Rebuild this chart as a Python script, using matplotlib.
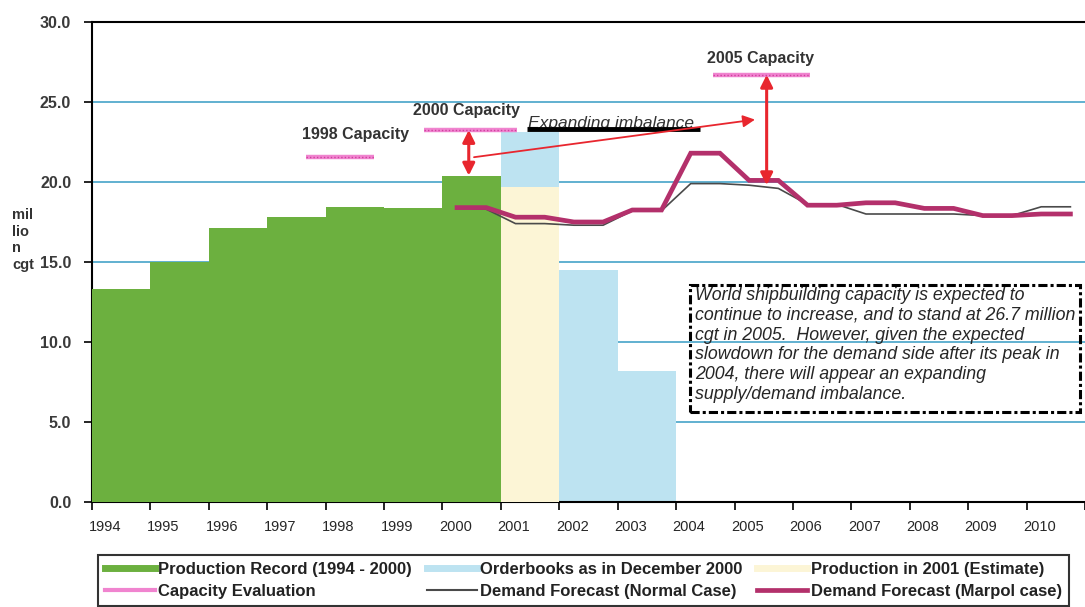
import matplotlib
matplotlib.use('Agg')
import matplotlib.pyplot as plt
from matplotlib.lines import Line2D
from matplotlib.patches import Rectangle

plt.rcParams['font.family'] = ['Liberation Sans', 'DejaVu Sans']

# ---------------- data ----------------
years = ['1994', '1995', '1996', '1997', '1998', '1999', '2000', '2001', '2002',
         '2003', '2004', '2005', '2006', '2007', '2008', '2009', '2010']

prod_years = ['1994', '1995', '1996', '1997', '1998', '1999', '2000']
prod_values = [13.3, 15.0, 17.1, 17.8, 18.45, 18.4, 20.4]

order_years = ['2001', '2002', '2003']
order_values = [23.1, 14.5, 8.2]

est_years = ['2001']
est_values = [19.7]

cap_labels = ['1998 Capacity', '2000 Capacity', '2005 Capacity']
cap_years = ['1998', '2000', '2005']
cap_values = [21.55, 23.25, 26.7]

demand_years = ['2000', '2000', '2001', '2001', '2002', '2002', '2003', '2003',
                '2004', '2004', '2005', '2005', '2006', '2006', '2007', '2007',
                '2008', '2008', '2009', '2009', '2010', '2010']
demand_half = [1, 2, 1, 2, 1, 2, 1, 2, 1, 2, 1, 2, 1, 2, 1, 2, 1, 2, 1, 2, 1, 2]
marpol_values = [18.4, 18.4, 17.8, 17.8, 17.5, 17.5, 18.25, 18.25,
                 21.8, 21.8, 20.1, 20.1, 18.55, 18.55, 18.7, 18.7,
                 18.35, 18.35, 17.9, 17.9, 18.0, 18.0]
normal_values = [18.4, 18.3, 17.4, 17.4, 17.3, 17.3, 18.2, 18.2,
                 19.9, 19.9, 19.8, 19.6, 18.6, 18.6, 18.0, 18.0,
                 18.0, 18.0, 17.9, 17.9, 18.45, 18.45]

yticks = [0, 5, 10, 15, 20, 25, 30]

legend_labels = ['Production Record (1994 - 2000)', 'Capacity Evaluation',
                 'Orderbooks as in December 2000', 'Demand Forecast (Normal Case)',
                 'Production in 2001 (Estimate)', 'Demand Forecast (Marpol case)']

note_text = ("World shipbuilding capacity is expected to\n"
             "continue to increase, and to stand at 26.7 million\n"
             "cgt in 2005.  However, given the expected\n"
             "slowdown for the demand side after its peak in\n"
             "2004, there will appear an expanding\n"
             "supply/demand imbalance.")

# ---------------- style ----------------
GREEN = '#6cb03f'
BLUE = '#bde3f1'
YELLOW = '#fcf5d6'
PINK = '#f084cf'
PINK_D = '#cf3f9e'
MARPOL = '#b3306b'
NORMAL = '#4a4a4a'
RED = '#e8262e'
GRID = '#45a3c8'
TXT = '#262626'

fig = plt.figure(figsize=(10.85, 6.07), dpi=100)
ax = fig.add_axes([92 / 1085, 1 - 502 / 607, 1 - 92 / 1085, (502 - 22) / 607])

def pos(y):
    return years.index(y)

# bars
ax.bar([pos(y) + 0.5 for y in order_years], order_values, width=1.0,
       color=BLUE, zorder=2, linewidth=0)
ax.bar([pos(y) + 0.5 for y in est_years], est_values, width=1.0,
       color=YELLOW, zorder=3, linewidth=0)
ax.bar([pos(y) + 0.5 for y in prod_years], prod_values, width=1.0,
       color=GREEN, zorder=3, linewidth=0)

# demand lines
dx = [pos(y) + (0.25 if h == 1 else 0.75) for y, h in zip(demand_years, demand_half)]
ax.plot(dx, marpol_values, color=MARPOL, lw=3.4, zorder=5, solid_joinstyle='miter')
ax.plot(dx, normal_values, color=NORMAL, lw=1.2, zorder=4)

# capacity lines
cap_spans = [(-0.33, 0.83), (-0.32, 1.27), (-0.37, 1.3)]
cap_text_off = [(0.51, 1.4), (0.41, 1.25), (0.45, 1.05)]
for lab, y, v, sp, to in zip(cap_labels, cap_years, cap_values, cap_spans, cap_text_off):
    x0, x1 = pos(y) + sp[0], pos(y) + sp[1]
    ax.plot([x0, x1], [v, v], color=PINK, lw=3.2, zorder=6, solid_capstyle='butt')
    ax.plot([x0, x1], [v, v], color=PINK_D, lw=1.0, ls=(0, (1, 1.5)), zorder=6)
    ax.text(pos(y) + to[0], v + to[1], lab, ha='center', va='center',
            fontsize=11.5, fontweight='bold', color='#333333', zorder=7)

# arrows
arr2 = dict(arrowstyle='<|-|>', color=RED, lw=2.2, mutation_scale=18, shrinkA=0, shrinkB=0)
ax.annotate('', xy=(6.45, prod_values[-1]), xytext=(6.45, cap_values[1]),
            arrowprops=arr2, zorder=8)
ax.annotate('', xy=(11.55, marpol_values[10] - 0.3), xytext=(11.55, cap_values[2]),
            arrowprops=arr2, zorder=8)
ax.annotate('', xy=(11.35, 23.9), xytext=(6.54, 21.55),
            arrowprops=dict(arrowstyle='-|>', color=RED, lw=1.3, mutation_scale=18,
                            shrinkA=0, shrinkB=0), zorder=8)

ax.text(7.47, 23.4, 'Expanding imbalance', fontsize=12.5, style='italic',
        color='#333333', ha='left', va='baseline', zorder=7)
ax.plot([7.44, 10.41], [23.3, 23.3], color='black', lw=3.5, zorder=7,
        solid_capstyle='butt')

# note box
ax.add_patch(Rectangle((10.24, 5.63), 16.91 - 10.24, 13.56 - 5.63, fill=False,
                       edgecolor='black', lw=2.2, ls=(0, (3, 1, 1, 1)), zorder=7))
ax.text(10.33, 13.45, note_text, fontsize=12.8, style='italic', color=TXT,
        ha='left', va='top', linespacing=1.22, zorder=7)

# axes styling
ax.set_xlim(0, 16.95)
ax.set_ylim(0, 30)
ax.set_yticks(yticks)
ax.set_yticklabels([f'{t:.1f}' for t in yticks], fontsize=11.5, fontweight='bold', color='#3a3a3a')
ax.tick_params(axis='y', length=6, width=1.2, pad=9, direction='out')
ax.set_xticks(range(len(years) + 1))
ax.set_xticklabels([])
ax.tick_params(axis='x', which='major', length=6, width=1.2, direction='out')
ax.set_xticks([i + 0.22 for i in range(len(years))], minor=True)
ax.set_xticklabels(years, minor=True, fontsize=10.5, color=TXT)
ax.tick_params(axis='x', which='minor', length=0, pad=13)
ax.yaxis.grid(True, color=GRID, lw=1.2, zorder=0)
ax.set_axisbelow(True)
for s in ['left', 'bottom', 'top']:
    ax.spines[s].set_linewidth(1.5)
    ax.spines[s].set_color('black')
ax.spines['right'].set_visible(False)

fig.text(12 / 1085, 1 - 240 / 607, 'mil\nlio\nn\ncgt', fontsize=10.5, fontweight='bold',
         color='#333333', ha='left', va='center', linespacing=1.25)

# legend
handles = [Line2D([], [], color=GREEN, lw=5),
           Line2D([], [], color=PINK, lw=3),
           Line2D([], [], color=BLUE, lw=5),
           Line2D([], [], color=NORMAL, lw=1.5),
           Line2D([], [], color=YELLOW, lw=5),
           Line2D([], [], color=MARPOL, lw=3.4)]
leg = fig.legend(handles, legend_labels, loc='upper left',
                 bbox_to_anchor=(98 / 1085, 1 - 555 / 607), borderaxespad=0, ncol=3,
                 frameon=True, fancybox=False, edgecolor='black', handlelength=3.0,
                 handletextpad=0.2, columnspacing=0.9, borderpad=0.4,
                 labelspacing=0.45, prop={'size': 12, 'weight': 'bold'})
leg.get_frame().set_linewidth(1.5)
for t in leg.get_texts():
    t.set_color('#222222')

fig.savefig('out.png', dpi=100)
